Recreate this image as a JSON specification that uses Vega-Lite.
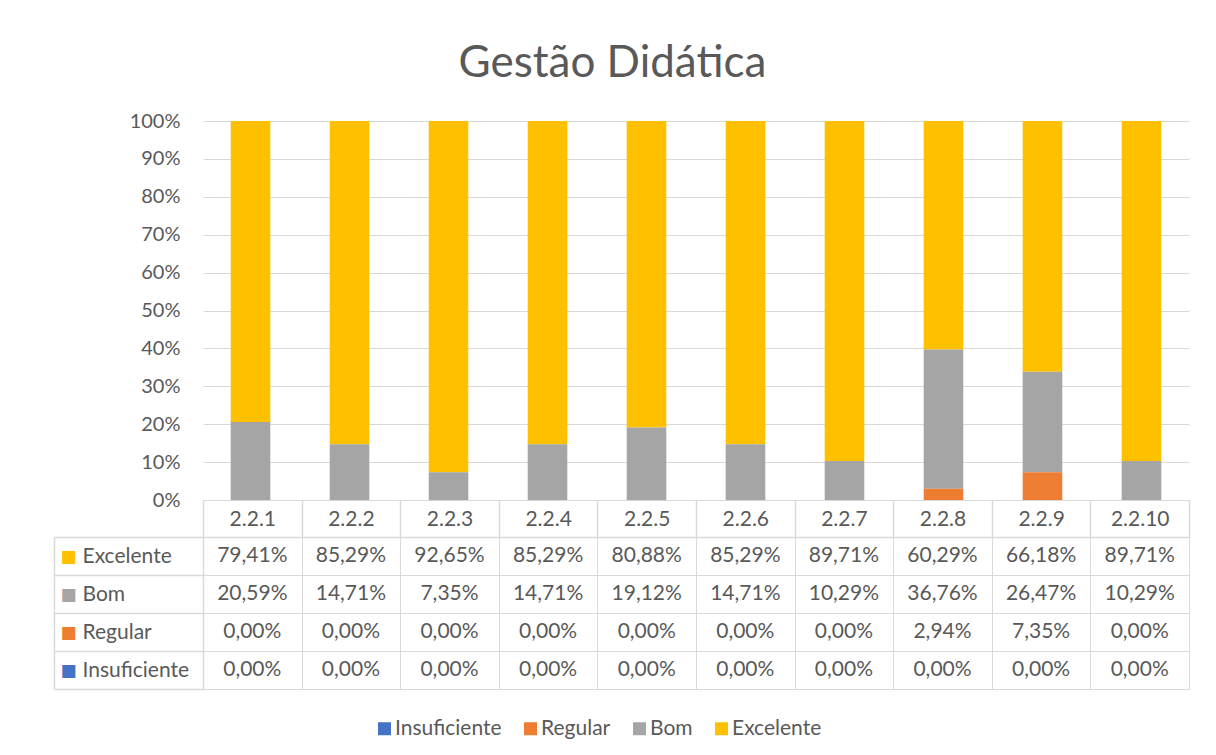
{
  "$schema": "https://vega.github.io/schema/vega-lite/v6.json",
  "padding": {"left": 53, "top": 42, "right": 28, "bottom": 10},
  "config": {
    "locale": {"number": {"decimal": ",", "thousands": ".", "grouping": [3], "currency": ["", " €"]}},
    "font": "Lato",
    "view": {"stroke": null},
    "axis": {"labelFont": "Lato", "labelFontSize": 18, "labelColor": "#595959", "gridColor": "#d9d9d9", "domainColor": "#d9d9d9", "tickColor": "#d9d9d9", "gridWidth": 1, "domainWidth": 1.5, "tickWidth": 1.5}
  },
  "bounds": "flush",
  "spacing": 37,
  "title": {"text": "Gestão Didática", "fontSize": 44, "font": "Lato", "fontWeight": "normal", "color": "#595959", "anchor": "middle", "offset": 25, "dx": -9},
  "data": {"values": [
    {"q": "2.2.1", "serie": "Excelente", "valor": 0.7941}, {"q": "2.2.1", "serie": "Bom", "valor": 0.2059}, {"q": "2.2.1", "serie": "Regular", "valor": 0}, {"q": "2.2.1", "serie": "Insuficiente", "valor": 0},
    {"q": "2.2.2", "serie": "Excelente", "valor": 0.8529}, {"q": "2.2.2", "serie": "Bom", "valor": 0.1471}, {"q": "2.2.2", "serie": "Regular", "valor": 0}, {"q": "2.2.2", "serie": "Insuficiente", "valor": 0},
    {"q": "2.2.3", "serie": "Excelente", "valor": 0.9265}, {"q": "2.2.3", "serie": "Bom", "valor": 0.0735}, {"q": "2.2.3", "serie": "Regular", "valor": 0}, {"q": "2.2.3", "serie": "Insuficiente", "valor": 0},
    {"q": "2.2.4", "serie": "Excelente", "valor": 0.8529}, {"q": "2.2.4", "serie": "Bom", "valor": 0.1471}, {"q": "2.2.4", "serie": "Regular", "valor": 0}, {"q": "2.2.4", "serie": "Insuficiente", "valor": 0},
    {"q": "2.2.5", "serie": "Excelente", "valor": 0.8088}, {"q": "2.2.5", "serie": "Bom", "valor": 0.1912}, {"q": "2.2.5", "serie": "Regular", "valor": 0}, {"q": "2.2.5", "serie": "Insuficiente", "valor": 0},
    {"q": "2.2.6", "serie": "Excelente", "valor": 0.8529}, {"q": "2.2.6", "serie": "Bom", "valor": 0.1471}, {"q": "2.2.6", "serie": "Regular", "valor": 0}, {"q": "2.2.6", "serie": "Insuficiente", "valor": 0},
    {"q": "2.2.7", "serie": "Excelente", "valor": 0.8971}, {"q": "2.2.7", "serie": "Bom", "valor": 0.1029}, {"q": "2.2.7", "serie": "Regular", "valor": 0}, {"q": "2.2.7", "serie": "Insuficiente", "valor": 0},
    {"q": "2.2.8", "serie": "Excelente", "valor": 0.6029}, {"q": "2.2.8", "serie": "Bom", "valor": 0.3676}, {"q": "2.2.8", "serie": "Regular", "valor": 0.0294}, {"q": "2.2.8", "serie": "Insuficiente", "valor": 0},
    {"q": "2.2.9", "serie": "Excelente", "valor": 0.6618}, {"q": "2.2.9", "serie": "Bom", "valor": 0.2647}, {"q": "2.2.9", "serie": "Regular", "valor": 0.0735}, {"q": "2.2.9", "serie": "Insuficiente", "valor": 0},
    {"q": "2.2.10", "serie": "Excelente", "valor": 0.8971}, {"q": "2.2.10", "serie": "Bom", "valor": 0.1029}, {"q": "2.2.10", "serie": "Regular", "valor": 0}, {"q": "2.2.10", "serie": "Insuficiente", "valor": 0}
  ]},
  "vconcat": [
    {
      "width": 986,
      "height": 379,
      "transform": [{"calculate": "indexof(['Insuficiente', 'Regular', 'Bom', 'Excelente'], datum.serie)", "as": "ordem"}],
      "mark": {"type": "bar"},
      "encoding": {
        "x": {"field": "q", "type": "nominal", "sort": ["2.2.1", "2.2.2", "2.2.3", "2.2.4", "2.2.5", "2.2.6", "2.2.7", "2.2.8", "2.2.9", "2.2.10"], "scale": {"paddingInner": 0.6, "paddingOuter": 0.28}, "axis": null},
        "y": {"field": "valor", "type": "quantitative", "stack": "normalize", "scale": {"domain": [0, 1]},
          "axis": {"title": null, "format": ".0%", "values": [0, 0.1, 0.2, 0.3, 0.4, 0.5, 0.6, 0.7, 0.8, 0.9, 1], "ticks": false, "domain": false, "labelPadding": 23, "labelFontSize": 20, "grid": true}},
        "order": {"field": "ordem", "type": "quantitative", "sort": "ascending"},
        "color": {"field": "serie", "type": "nominal", "sort": ["Insuficiente", "Regular", "Bom", "Excelente"],
          "scale": {"domain": ["Insuficiente", "Regular", "Bom", "Excelente"], "range": ["#4472c4", "#ed7d31", "#a5a5a5", "#ffc000"]},
          "legend": {"orient": "none", "legendX": 171, "legendY": 597, "direction": "horizontal", "title": null, "symbolType": "square", "symbolSize": 169, "symbolStrokeWidth": 0, "labelFontSize": 21, "labelColor": "#595959", "labelFont": "Lato", "columnPadding": 18, "labelOffset": 0}}
      }
    },
    {
      "width": 986,
      "height": 152,
      "resolve": {"scale": {"y": "independent"}, "axis": {"y": "independent"}},
      "layer": [
        {
          "mark": {"type": "text", "font": "Lato", "fontSize": 21, "color": "#595959"},
          "encoding": {
            "x": {"field": "q", "type": "nominal", "sort": ["2.2.1", "2.2.2", "2.2.3", "2.2.4", "2.2.5", "2.2.6", "2.2.7", "2.2.8", "2.2.9", "2.2.10"], "scale": {"paddingInner": 0, "paddingOuter": 0},
              "axis": {"orient": "top", "title": null, "tickBand": "extent", "tickSize": 37, "labelPadding": -29, "labelFontSize": 21, "grid": true, "domain": true, "labelAngle": 0}},
            "y": {"field": "serie", "type": "nominal", "sort": ["Excelente", "Bom", "Regular", "Insuficiente"], "scale": {"paddingInner": 0, "paddingOuter": 0},
              "axis": {"title": null, "tickBand": "extent", "tickSize": 149, "grid": true, "domain": true, "labelAlign": "left", "labelPadding": -28, "labelFontSize": 21}},
            "text": {"field": "valor", "type": "quantitative", "format": ".2%"}
          }
        },
        {
          "mark": {"type": "text", "opacity": 0},
          "encoding": {
            "y": {"field": "serie", "type": "nominal", "sort": ["Excelente", "Bom", "Regular", "Insuficiente"], "scale": {"paddingInner": 0, "paddingOuter": 0},
              "axis": {"orient": "left", "offset": 149, "title": null, "ticks": false, "grid": false, "domain": true, "labelExpr": "'■'", "labelFont": "DejaVu Sans", "labelFontSize": 17, "labelAlign": "left", "labelPadding": -6,
                "labelColor": {"condition": [{"test": "datum.value === 'Excelente'", "value": "#ffc000"}, {"test": "datum.value === 'Bom'", "value": "#a5a5a5"}, {"test": "datum.value === 'Regular'", "value": "#ed7d31"}], "value": "#4472c4"}}},
            "text": {"value": ""}
          }
        }
      ]
    }
  ]
}
